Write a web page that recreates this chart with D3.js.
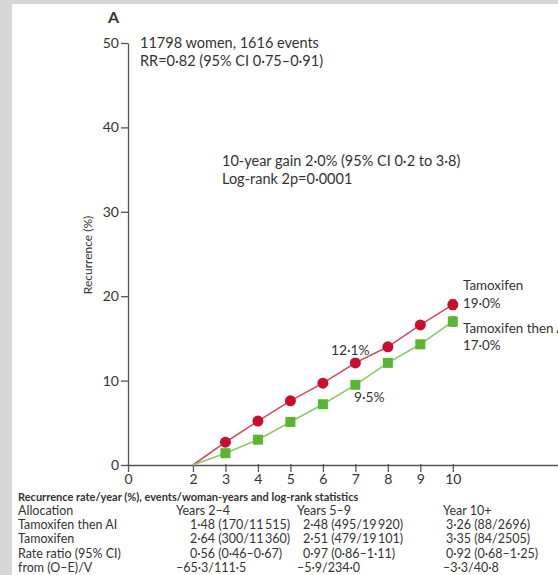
<!DOCTYPE html>
<html>
<head>
<meta charset="utf-8">
<script src="https://cdn.jsdelivr.net/npm/d3@7"></script>
<style>
  body { margin:0; background:#d6d6d6; }
  #chart-area { position:absolute; left:12px; top:4px; }
  text { font-family:Lato,"Liberation Sans",Arial,sans-serif; fill:#333; }
</style>
</head>
<body>
<div id="chart-area"></div>
<script>
// data
var years = [2, 3, 4, 5, 6, 7, 8, 9, 10];
var tamoxifen = [0, 2.7, 5.2, 7.6, 9.7, 12.1, 14.0, 16.6, 19.0];
var tamThenAI = [0, 1.4, 3.0, 5.1, 7.2, 9.5, 12.1, 14.3, 17.0];
var errTam = 0.55, errAI = 0.55;
var xTicks = [0, 2, 3, 4, 5, 6, 7, 8, 9, 10];
var yTicks = [0, 10, 20, 30, 40, 50];

var tableHead = ["Allocation", "Years 2–4", "Years 5–9", "Year 10+"];
var tableRows = [
  ["Tamoxifen then AI", "1·48 (170/11\u2009515)", "2·48 (495/19\u2009920)", "3·26 (88/2696)"],
  ["Tamoxifen", "2·64 (300/11\u2009360)", "2·51 (479/19\u2009101)", "3·35 (84/2505)"],
  ["Rate ratio (95% CI)", "0·56 (0·46–0·67)", "0·97 (0·86–1·11)", "0·92 (0·68–1·25)"],
  ["from (O–E)/V", "–65·3/111·5", "–5·9/234·0", "–3·3/40·8"]
];

var W = 546, H = 571;
var svg = d3.select("#chart-area").append("svg")
    .attr("width", W).attr("height", H)
    .style("background", "#fff");

// shift back so that coordinates below are page coords
var g = svg.append("g").attr("transform", "translate(-12,-4)");

var x = d3.scaleLinear().domain([0, 13.3]).range([128, 560]);
var y = d3.scaleLinear().domain([0, 50]).range([465, 43]);

var red = "#c8102e", redLine = "#d64a60";
var green = "#5ab532", greenLine = "#8acb68";

// axes
var xAxis = g.append("g")
    .attr("transform", "translate(0," + y(0) + ")")
    .call(d3.axisBottom(x).tickValues(xTicks).tickSize(7).tickSizeOuter(0).tickPadding(2));
var yAxis = g.append("g")
    .attr("transform", "translate(" + x(0) + ",0)")
    .call(d3.axisLeft(y).tickValues(yTicks).tickSize(7).tickSizeOuter(0).tickPadding(2));

[xAxis, yAxis].forEach(function(a){
  a.selectAll("path, line").attr("stroke", "#555").attr("stroke-width", 1.3);
  a.selectAll("text").style("font-family", "Lato,'Liberation Sans',Arial,sans-serif")
    .style("font-size", "14px").attr("fill", "#444");
});
xAxis.selectAll(".tick line").attr("y1", -1);

// y label
g.append("text")
    .attr("transform", "translate(92," + 255 + ") rotate(-90)")
    .attr("text-anchor", "middle")
    .style("font-size", "12px").attr("fill", "#555")
    .text("Recurrence (%)");

g.append("text").attr("x", 108).attr("y", 23)
    .style("font-weight", "bold").style("font-size", "16px").text("A");

// lines
var line = d3.line().x(function(d){ return x(d[0]); }).y(function(d){ return y(d[1]); });
g.append("path").datum(d3.zip(years, tamoxifen))
    .attr("d", line).attr("fill", "none").attr("stroke", redLine).attr("stroke-width", 1.6);
g.append("path").datum(d3.zip(years, tamThenAI))
    .attr("d", line).attr("fill", "none").attr("stroke", greenLine).attr("stroke-width", 1.6);

// error bars at year 10
function errBar(v, e, col) {
  var xx = x(10);
  g.append("line").attr("x1", xx).attr("x2", xx)
    .attr("y1", y(v - e)).attr("y2", y(v + e)).attr("stroke", col).attr("stroke-width", 1.5);
  [v - e, v + e].forEach(function(t){
    g.append("line").attr("x1", xx - 3).attr("x2", xx + 3)
      .attr("y1", y(t)).attr("y2", y(t)).attr("stroke", col).attr("stroke-width", 1.5);
  });
}
errBar(tamoxifen[8], errTam, red);
errBar(tamThenAI[8], errAI, green);

// markers (not at year 2)
g.selectAll(".dot").data(d3.zip(years, tamoxifen).slice(1)).enter()
  .append("circle").attr("class", "dot")
    .attr("cx", function(d){ return x(d[0]); })
    .attr("cy", function(d){ return y(d[1]); })
    .attr("r", 5.5).attr("fill", red);
g.selectAll(".sq").data(d3.zip(years, tamThenAI).slice(1)).enter()
  .append("rect").attr("class", "sq")
    .attr("x", function(d){ return x(d[0]) - 5; })
    .attr("y", function(d){ return y(d[1]) - 5; })
    .attr("width", 10).attr("height", 10).attr("fill", green);

// annotations
function txt(xx, yy, s, size) {
  return g.append("text").attr("x", xx).attr("y", yy)
    .style("font-size", (size || 14.5) + "px").text(s);
}
txt(140, 48, "11798 women, 1616 events");
txt(140, 66, "RR=0·82 (95% CI 0·75–0·91)");
txt(222, 166, "10-year gain 2·0% (95% CI 0·2 to 3·8)");
txt(222, 184, "Log-rank 2p=0·0001");
txt(463, 290, "Tamoxifen", 13.4);
txt(463, 308, "19·0%", 13.4);
txt(463, 333, "Tamoxifen then AI", 13.4);
txt(463, 350, "17·0%", 13.4);
txt(331, 355, "12·1%", 13.8);
txt(354, 402, "9·5%", 13.8);

// table
g.append("text").attr("x", 18).attr("y", 501)
    .style("font-size", "11px").style("font-weight", "bold")
    .text("Recurrence rate/year (%), events/woman-years and log-rank statistics");
var headX = [18, 176, 297, 443];
var cellX = [18, 190, 303, 446];
var rowY = 515, rowStep = 14.2;
tableHead.forEach(function(h, i){ txt(headX[i], rowY, h, 12.5); });
tableRows.forEach(function(r, ri){
  r.forEach(function(c, ci){
    var xx = ri === 3 ? headX[ci] : cellX[ci];
    txt(xx, rowY + (ri + 1) * rowStep, c, 12.5);
  });
});
</script>
</body>
</html>
